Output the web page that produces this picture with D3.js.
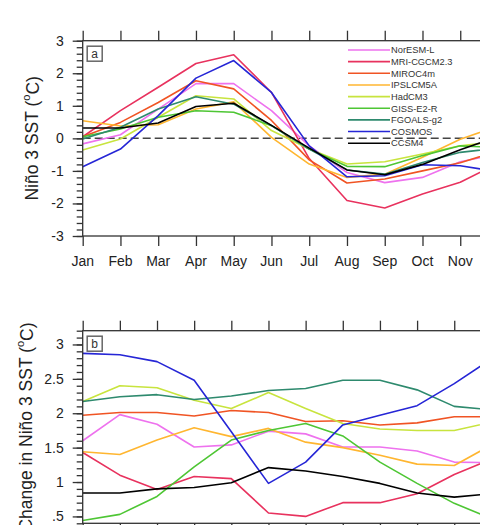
<!DOCTYPE html>
<html>
<head>
<meta charset="utf-8">
<script src="https://cdn.jsdelivr.net/npm/d3@7"></script>
<style>
  body { margin: 0; background: #fff; }
  svg { font-family: "Liberation Sans", Arial, sans-serif; }
</style>
</head>
<body>
<svg id="chart" width="480" height="525"></svg>
<script>
// Months and models
const months = ["Jan", "Feb", "Mar", "Apr", "May", "Jun", "Jul", "Aug", "Sep", "Oct", "Nov", "Dec"];
const models = ["NorESM-L", "MRI-CGCM2.3", "MIROC4m", "IPSLCM5A", "HadCM3", "GISS-E2-R", "FGOALS-g2", "COSMOS", "CCSM4"];
const modelColors = ["#ee72ee", "#e8325e", "#f05424", "#ffb630", "#c8e43e", "#4ec634", "#2e8a6e", "#2626d6", "#000000"];

// (a) Nino 3 SST anomaly seasonal cycle, one row per model
const sstCycle = [
  [-0.17, 0.11, 0.9, 1.68, 1.68, 0.85, -0.23, -1.05, -1.36, -1.2, -0.72, -0.48],
  [0.05, 0.85, 1.57, 2.3, 2.57, 1.41, -0.62, -1.91, -2.14, -1.71, -1.35, -0.77],
  [0.05, 0.49, 1.1, 1.77, 1.52, 0.55, -0.66, -1.37, -1.25, -1.0, -0.75, -0.39],
  [0.54, 0.38, 0.42, 0.9, 1.12, 0.03, -0.79, -1.2, -1.1, -0.58, -0.03, 0.38],
  [-0.36, -0.02, 0.65, 1.31, 1.21, 0.24, -0.33, -0.79, -0.72, -0.48, -0.23, -0.1],
  [0.05, 0.29, 0.65, 0.85, 0.8, 0.39, -0.33, -0.86, -0.87, -0.53, -0.23, -0.28],
  [-0.02, 0.34, 0.9, 1.28, 1.05, 0.39, -0.33, -0.97, -1.1, -0.74, -0.43, -0.3],
  [-0.87, -0.33, 0.7, 1.85, 2.39, 1.41, -0.23, -1.18, -1.15, -0.81, -0.84, -1.03],
  [0.32, 0.32, 0.47, 0.98, 1.08, 0.4, -0.3, -0.97, -1.12, -0.8, -0.35, 0.05]
];

// (b) change in Nino 3 SST, one row per model
const sstChange = [
  [1.6, 1.98, 1.84, 1.51, 1.54, 1.74, 1.7, 1.51, 1.51, 1.45, 1.29, 1.28],
  [1.43, 1.1, 0.89, 1.08, 1.05, 0.55, 0.5, 0.7, 0.7, 0.83, 1.11, 1.33],
  [1.97, 2.01, 2.01, 1.96, 2.04, 2.01, 1.88, 1.89, 1.83, 1.86, 1.95, 1.95],
  [1.44, 1.4, 1.61, 1.79, 1.66, 1.78, 1.58, 1.5, 1.39, 1.26, 1.24, 1.54],
  [2.17, 2.4, 2.37, 2.19, 2.07, 2.3, 2.07, 1.85, 1.77, 1.75, 1.75, 1.87],
  [0.44, 0.53, 0.79, 1.22, 1.61, 1.75, 1.85, 1.67, 1.29, 0.98, 0.69, 0.47],
  [2.17, 2.24, 2.27, 2.2, 2.25, 2.33, 2.36, 2.48, 2.48, 2.34, 2.1, 2.05],
  [2.87, 2.85, 2.75, 2.48, 1.73, 0.98, 1.29, 1.83, 1.97, 2.11, 2.43, 2.79],
  [0.84, 0.84, 0.9, 0.92, 0.99, 1.21, 1.16, 1.08, 0.98, 0.84, 0.78, 0.83]
];

const ticksA = [-3, -2, -1, 0, 1, 2, 3];
const ticksB = [0.5, 1, 1.5, 2, 2.5, 3];

const svg = d3.select("#chart");
const pageWidth = +svg.attr("width");

function drawPanel(cfg) {
  const x = d3.scaleLinear().domain([0, 11]).range([cfg.left, cfg.right]);
  const y = d3.scaleLinear().domain(cfg.yDomain).range([cfg.bottom, cfg.top]);
  const g = svg.append("g");

  const clipId = "clip-" + cfg.name;
  svg.append("clipPath").attr("id", clipId)
    .append("rect")
    .attr("x", cfg.left).attr("y", cfg.top)
    .attr("width", cfg.right - cfg.left).attr("height", cfg.bottom - cfg.top);

  // zero line
  if (cfg.zeroLine) {
    g.append("line")
      .attr("x1", cfg.left).attr("x2", cfg.right)
      .attr("y1", y(0)).attr("y2", y(0))
      .attr("stroke", "#444").attr("stroke-width", 1.5)
      .attr("stroke-dasharray", "8,4");
  }

  const line = d3.line().x((d, i) => x(i)).y(d => y(d));
  g.append("g").attr("clip-path", `url(#${clipId})`)
    .selectAll("path")
    .data(cfg.data)
    .enter()
    .append("path")
    .attr("d", d => line(d))
    .attr("fill", "none")
    .attr("stroke", (d, i) => modelColors[i])
    .attr("stroke-width", 1.6)
    .attr("stroke-linejoin", "round");

  // frame
  g.append("rect")
    .attr("x", cfg.left).attr("y", cfg.top)
    .attr("width", cfg.right - cfg.left).attr("height", cfg.bottom - cfg.top)
    .attr("fill", "none").attr("stroke", "#333").attr("stroke-width", 1.3);

  // x axes (top and bottom, outward ticks)
  const xTop = g.append("g").attr("transform", `translate(0,${cfg.top})`)
    .call(d3.axisTop(x).tickValues(d3.range(12)).tickSize(10).tickFormat(""));
  const xBot = g.append("g").attr("transform", `translate(0,${cfg.bottom})`)
    .call(d3.axisBottom(x).tickValues(d3.range(12)).tickSize(10).tickFormat(""));
  [xTop, xBot].forEach(a => {
    a.select(".domain").remove();
    a.selectAll("line").attr("stroke", "#333").attr("stroke-width", 1.3);
  });

  if (cfg.monthLabels) {
    // Dec sits past the right edge of the page, so only label months that fit
    g.selectAll("text.month")
      .data(months.map((m, i) => ({ m, i })).filter(d => x(d.i) + 14 < pageWidth))
      .enter()
      .append("text")
      .attr("class", "month")
      .attr("x", d => x(d.i))
      .attr("y", cfg.bottom + 30)
      .attr("text-anchor", "middle")
      .attr("font-size", 14)
      .attr("fill", "#222")
      .text(d => d.m);
  }

  // y axis, major + minor ticks
  const minor = d3.range(cfg.yDomain[0], cfg.yDomain[1] + 1e-6, cfg.minorStep)
    .map(v => Math.round(v * 100) / 100);
  const yMinor = g.append("g").attr("transform", `translate(${cfg.left},0)`)
    .call(d3.axisLeft(y).tickValues(minor).tickSize(6).tickFormat(""));
  const yMajor = g.append("g").attr("transform", `translate(${cfg.left},0)`)
    .call(d3.axisLeft(y).tickValues(cfg.ticks).tickSize(10).tickPadding(9)
      .tickFormat(cfg.format));
  [yMinor, yMajor].forEach(a => {
    a.select(".domain").remove();
    a.selectAll("line").attr("stroke", "#333").attr("stroke-width", 1.3);
  });
  yMajor.selectAll("text")
    .attr("font-size", 14)
    .attr("font-family", "Liberation Sans, Arial, sans-serif")
    .attr("fill", "#222");

  // y title
  const t = g.append("text")
    .attr("transform", `translate(${cfg.titleX},${(cfg.top + cfg.bottom) / 2}) rotate(-90)`)
    .attr("text-anchor", "middle")
    .attr("dy", "0.35em")
    .attr("font-size", 17.5)
    .attr("fill", "#222");
  t.append("tspan").text(cfg.title + " (");
  t.append("tspan").attr("font-size", 11).attr("dy", "-0.75em").text("o");
  t.append("tspan").attr("dy", "0.5em").text("C)");

  // panel tag
  g.append("rect")
    .attr("x", cfg.left + 4.5).attr("y", cfg.top + 5.5)
    .attr("width", 15).attr("height", 15)
    .attr("fill", "#fff").attr("stroke", "#666").attr("stroke-width", 1.5);
  g.append("text")
    .attr("x", cfg.left + 12).attr("y", cfg.top + 17)
    .attr("text-anchor", "middle")
    .attr("font-size", 12)
    .attr("fill", "#333")
    .text(cfg.name);

  return { x, y, g };
}

drawPanel({
  name: "a", data: sstCycle, left: 82.7, right: 498, top: 40.7, bottom: 236,
  yDomain: [-3, 3], ticks: ticksA, minorStep: 0.2, format: d => String(d),
  zeroLine: true, monthLabels: true, titleX: 32, title: "Niño 3 SST"
});

drawPanel({
  name: "b", data: sstChange, left: 82.7, right: 491.4, top: 330.7, bottom: 523.3,
  yDomain: [0.4, 3.2], ticks: ticksB, minorStep: 0.1,
  format: d => String(d).replace(/^0\./, "."),
  zeroLine: false, monthLabels: false, titleX: 26, title: "Change in Niño 3 SST"
});

// legend in panel a
const legend = svg.append("g").attr("transform", "translate(348,50)");
const rows = legend.selectAll("g")
  .data(models)
  .enter()
  .append("g")
  .attr("transform", (d, i) => `translate(0,${i * 11.65})`);
rows.append("line")
  .attr("x1", 0).attr("x2", 42)
  .attr("stroke", (d, i) => modelColors[i])
  .attr("stroke-width", 1.6);
rows.append("text")
  .attr("x", 43).attr("dy", "0.35em")
  .attr("font-size", 9.3)
  .attr("fill", "#333")
  .text(d => d);
</script>
</body>
</html>
